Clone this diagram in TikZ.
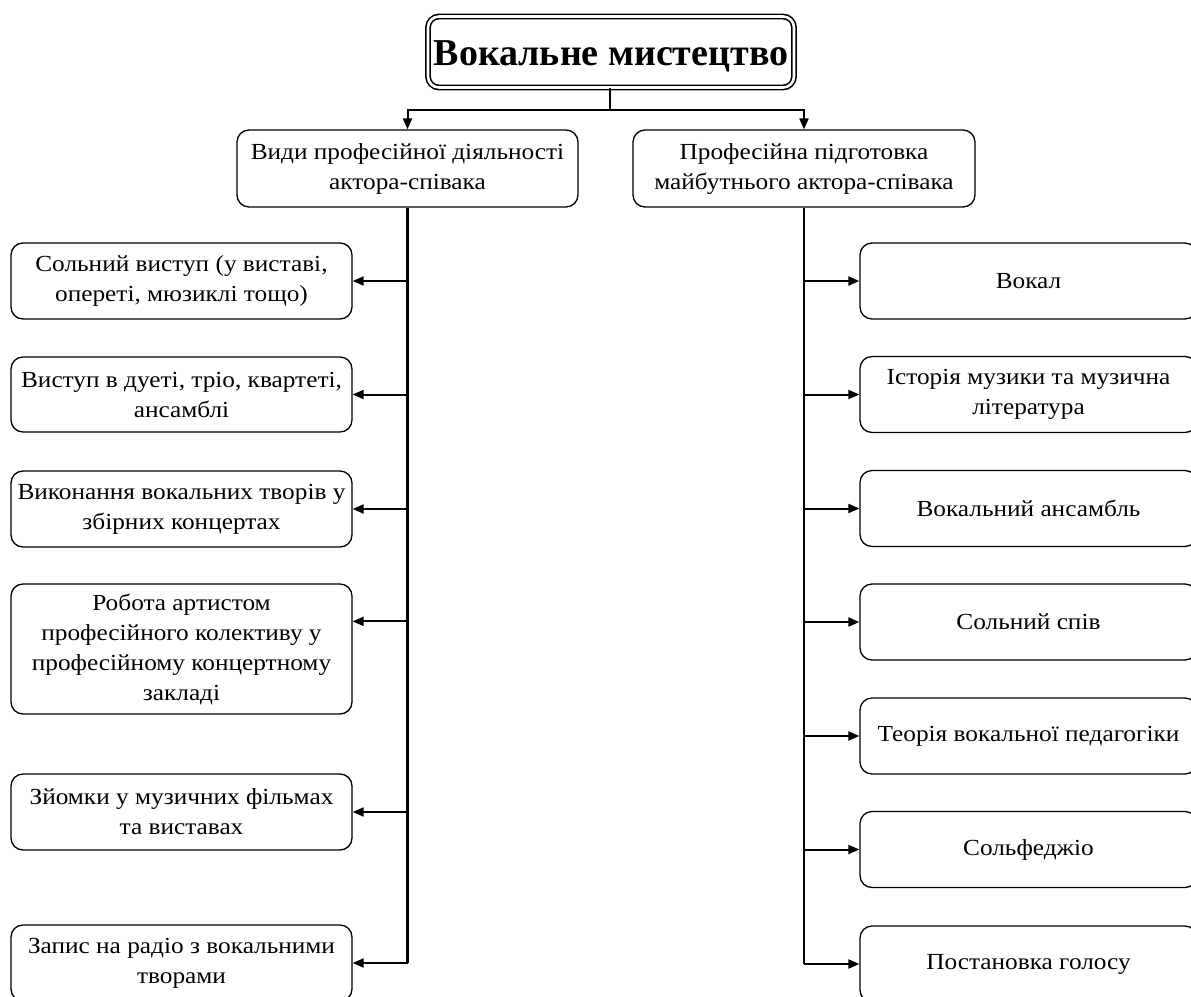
\documentclass[tikz,border=0pt]{standalone}
\usepackage{fontspec}
\setmainfont{Liberation Serif}
\newfontfamily\bodyfont[FakeStretch=1.1]{Liberation Serif}
\usetikzlibrary{arrows.meta}
\begin{document}
\begin{tikzpicture}[x=1pt,y=-1pt,
  box/.style={draw, line width=1.3pt, rounded corners=12pt, align=center, inner sep=0pt,
    font=\bodyfont\fontsize{23}{30}\selectfont},
  lbox/.style={box, minimum width=341pt, minimum height=76pt},
  rbox/.style={box, minimum width=337pt, minimum height=76pt},
  conn/.style={line width=2pt, -{Triangle[length=11pt,width=9pt]}},
  trunk/.style={line width=2.6pt}]
\useasboundingbox (0,0) rectangle (1191,996);
\clip (0,0) rectangle (1191,996);

\node[draw, double, double distance=2.6pt, line width=1.6pt, rounded corners=11pt,
  minimum width=366pt, minimum height=71pt, text height=30pt, text depth=4pt,
  font=\bfseries\fontsize{38}{46}\selectfont] (T) at (611,52) {Вокальне мистецтво};

\node[box, minimum width=341pt, minimum height=77pt] (L0) at (407.5,168.5) {Види професійної діяльності\\актора-співака};
\node[box, minimum width=342pt, minimum height=77pt] (R0) at (804,168.5) {Професійна підготовка\\майбутнього актора-співака};

\node[lbox] (L1) at (181.5,281) {Сольний виступ (у виставі,\\опереті, мюзиклі тощо)};
\node[lbox, minimum height=75pt] (L2) at (181.5,394.5) {Виступ в дуеті, тріо, квартеті,\\ансамблі};
\node[lbox] (L3) at (181.5,509) {Виконання вокальних творів у\\збірних концертах};
\node[lbox, minimum height=130pt] (L4) at (181.5,649) {Робота артистом\\професійного колективу у\\професійному концертному\\закладі};
\node[lbox] (L5) at (181.5,812) {Зйомки у музичних фільмах\\та виставах};
\node[lbox] (L6) at (181.5,963) {Запис на радіо з вокальними\\творами};

\node[rbox] (R1) at (1028.5,281) {Вокал};
\node[rbox] (R2) at (1028.5,394.5) {Історія музики та музична\\література};
\node[rbox] (R3) at (1028.5,508.5) {Вокальний ансамбль};
\node[rbox] (R4) at (1028.5,622) {Сольний спів};
\node[rbox] (R5) at (1028.5,736) {Теорія вокальної педагогіки};
\node[rbox] (R6) at (1028.5,849.5) {Сольфеджіо};
\node[rbox] (R7) at (1028.5,964) {Постановка голосу};

\coordinate (hub) at (610,110);
\draw[line width=2pt] (T.south -| hub) -- (hub);
\draw[conn] (hub) -| (L0.north);
\draw[conn] (hub) -| (R0.north);

\draw[trunk] (L0.south) -- (L0.south |- L6.east);
\draw[trunk] (R0.south) -- (R0.south |- R7.west);

\coordinate (L4a) at ([yshift=-38pt]L4.north east);
\foreach \n in {L1,L2,L3,L4a,L5,L6}
  \draw[conn] (L0.south |- \n) -- (\n);
\foreach \n in {R1,R2,R3,R4,R5,R6,R7}
  \draw[conn] (R0.south |- \n.west) -- (\n.west);
\end{tikzpicture}
\end{document}
